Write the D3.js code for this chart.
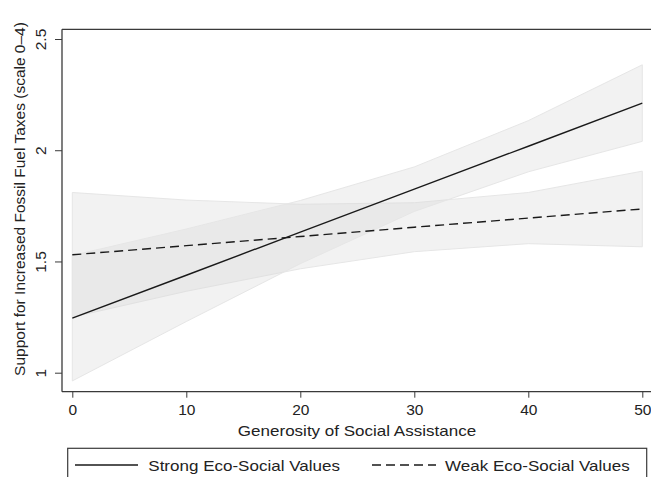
<!DOCTYPE html>
<html><head><meta charset="utf-8">
<script src="https://cdn.jsdelivr.net/npm/d3@7"></script>
<style>body{margin:0;background:#fff;}svg{display:block;font-family:"Liberation Sans",Arial,Helvetica,sans-serif;}</style>
</head><body>
<svg id="c" width="651" height="477"></svg>
<script>
const xVals = [0, 10, 20, 30, 40, 50];
const strongMean = [1.245, 1.438, 1.632, 1.825, 2.018, 2.212];
const strongLo   = [0.963, 1.230, 1.490, 1.725, 1.903, 2.040];
const strongHi   = [1.527, 1.646, 1.774, 1.925, 2.133, 2.384];
const weakMean = [1.530, 1.571, 1.612, 1.654, 1.695, 1.736];
const weakLo   = [1.250, 1.366, 1.467, 1.544, 1.580, 1.566];
const weakHi   = [1.810, 1.776, 1.757, 1.764, 1.810, 1.906];
const xTicks = [0, 10, 20, 30, 40, 50];
const yTicks = [1, 1.5, 2, 2.5];
const yTickLabels = ["1", "1.5", "2", "2.5"];
const xTitle = "Generosity of Social Assistance";
const yTitle = "Support for Increased Fossil Fuel Taxes (scale 0\u20134)";
const seriesNames = ["Strong Eco-Social Values", "Weak Eco-Social Values"];

const svg = d3.select("#c");
const pLeft = 62, pRight = 651, pTop = 29.3, pBottom = 391.7;
const x = d3.scaleLinear().domain([0, 50]).range([72.3, 642.3]);
const y = d3.scaleLinear().domain([1, 2.5]).range([372.7, 39]);
const ink = "#222";
const sx = 1.12;

function band(lo, hi) {
  return d3.area().x((d, i) => x(xVals[i])).y0((d, i) => y(lo[i])).y1((d, i) => y(hi[i]))(xVals);
}
function line(vals) {
  return d3.line().x((d, i) => x(xVals[i])).y((d, i) => y(vals[i]))(xVals);
}
[[weakLo, weakHi], [strongLo, strongHi]].forEach(([lo, hi]) => {
  svg.append("path").attr("d", band(lo, hi))
    .attr("fill", "#d8d8d8").attr("fill-opacity", 0.33)
    .attr("stroke", "#e6e6e6").attr("stroke-width", 1);
});
svg.append("path").attr("d", line(strongMean)).attr("fill", "none")
  .attr("stroke", "#1a1a1a").attr("stroke-width", 1.4);
svg.append("path").attr("d", line(weakMean)).attr("fill", "none")
  .attr("stroke", "#1a1a1a").attr("stroke-width", 1.4).attr("stroke-dasharray", "9,5");

// frame
const fr = svg.append("g").attr("stroke", "#3a3a3a").attr("stroke-width", 1.3).attr("fill", "none");
fr.append("line").attr("x1", pLeft).attr("x2", pRight).attr("y1", pTop).attr("y2", pTop);
fr.append("line").attr("x1", pLeft).attr("x2", pRight).attr("y1", pBottom).attr("y2", pBottom);
fr.append("line").attr("x1", pLeft).attr("x2", pLeft).attr("y1", pTop).attr("y2", pBottom);

// x axis
const xa = svg.append("g").attr("transform", `translate(0,${pBottom})`)
  .call(d3.axisBottom(x).tickValues(xTicks).tickSize(6).tickPadding(6).tickFormat(d3.format("d")));
xa.select(".domain").remove();
xa.selectAll("line").attr("stroke", "#3a3a3a");
xa.selectAll("text").attr("font-size", 15.5).attr("fill", ink).attr("font-family", "Liberation Sans, Arial, sans-serif");

// y axis
const ya = svg.append("g").attr("transform", `translate(${pLeft},0)`)
  .call(d3.axisLeft(y).tickValues(yTicks).tickSize(7).tickFormat((d, i) => yTickLabels[i]));
ya.select(".domain").remove();
ya.selectAll("line").attr("stroke", "#3a3a3a");
ya.selectAll("text").attr("font-size", 15.5).attr("fill", ink)
  .attr("font-family", "Liberation Sans, Arial, sans-serif")
  .attr("text-anchor", "middle").attr("dy", null)
  .attr("x", null)
  .attr("transform", "translate(-16,0) rotate(-90)");

svg.append("text").attr("transform", `translate(357,436) scale(${sx},1)`).attr("text-anchor", "middle")
  .attr("font-size", 15.2).attr("fill", ink).text(xTitle);
svg.append("text").attr("transform", "translate(25,199) rotate(-90)").attr("text-anchor", "middle")
  .attr("font-size", 15.5).attr("fill", ink).text(yTitle);

// legend
svg.append("rect").attr("x", 67.7).attr("y", 448.3).attr("width", 579).attr("height", 40)
  .attr("fill", "#fff").attr("stroke", "#3a3a3a").attr("stroke-width", 1.2);
svg.append("line").attr("x1", 75).attr("x2", 138).attr("y1", 465).attr("y2", 465)
  .attr("stroke", "#1a1a1a").attr("stroke-width", 1.4);
svg.append("text").attr("transform", `translate(148.3,471) scale(${sx},1)`).attr("font-size", 15.2)
  .attr("fill", ink).text(seriesNames[0]);
svg.append("line").attr("x1", 372).attr("x2", 436).attr("y1", 465).attr("y2", 465)
  .attr("stroke", "#1a1a1a").attr("stroke-width", 1.4).attr("stroke-dasharray", "9,5");
svg.append("text").attr("transform", `translate(445,471) scale(${sx},1)`).attr("font-size", 15.2)
  .attr("fill", ink).text(seriesNames[1]);
</script>
</body></html>
